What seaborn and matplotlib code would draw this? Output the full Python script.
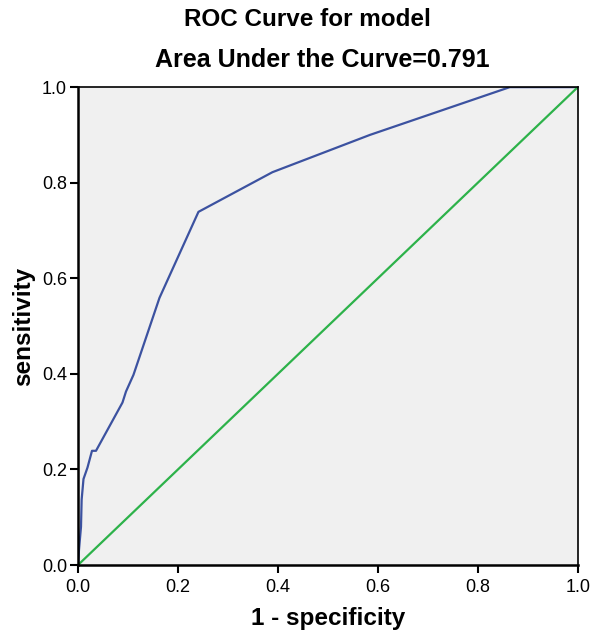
import matplotlib
matplotlib.use("Agg")
import numpy as np
import pandas as pd
import matplotlib.pyplot as plt
import seaborn as sns

# ROC curve points
fpr = [0.0, 0.002, 0.006, 0.0073, 0.011, 0.019, 0.028, 0.036, 0.089, 0.096,
       0.111, 0.163, 0.241, 0.389, 0.584, 0.864, 1.0]
tpr = [0.0, 0.032, 0.08, 0.137, 0.18, 0.204, 0.239, 0.239, 0.34, 0.363,
       0.398, 0.559, 0.739, 0.822, 0.90, 1.0, 1.0]

# reference diagonal
diag_x = [0.0, 1.0]
diag_y = [0.0, 1.0]

ticks = [0.0, 0.2, 0.4, 0.6, 0.8, 1.0]
auc = 0.791

sns.set_style("white")
plt.rcParams['font.family'] = ['Liberation Sans', 'DejaVu Sans']
plt.rcParams['text.color'] = 'black'
plt.rcParams['axes.labelcolor'] = 'black'
plt.rcParams['xtick.color'] = 'black'
plt.rcParams['ytick.color'] = 'black'

roc = pd.DataFrame({'fpr': fpr, 'tpr': tpr})
ref = pd.DataFrame({'x': diag_x, 'y': diag_y})

fig = plt.figure(figsize=(6, 6.36), dpi=100)
ax = fig.add_axes([0.13, 0.1116, 0.833, 0.7514])
ax.set_facecolor('#F0F0F0')

sns.lineplot(data=roc, x='fpr', y='tpr', sort=False, color='#3C52A0',
             linewidth=1.6, ax=ax)
sns.lineplot(data=ref, x='x', y='y', sort=False, color='#2DB24A',
             linewidth=1.6, ax=ax)

ax.set_xlim(0, 1)
ax.set_ylim(0, 1)
ax.set_xticks(ticks)
ax.set_yticks(ticks)
ax.set_xticklabels([f"{t:.1f}" for t in ticks])
ax.set_yticklabels([f"{t:.1f}" for t in ticks])
ax.tick_params(axis='both', direction='out', length=6, width=1.5,
               labelsize=13, bottom=True, left=True,
               top=False, right=False, pad=2)
ax.tick_params(axis='x', pad=4)

for sp in ax.spines.values():
    sp.set_color('black')
    sp.set_linewidth(1.2)
ax.spines['left'].set_linewidth(1.8)
ax.spines['bottom'].set_linewidth(1.8)

ax.set_xlabel("1 - specificity", fontsize=17.5, fontweight='bold', labelpad=8)
ax.set_ylabel("sensitivity", fontsize=17.5, fontweight='bold', labelpad=5)

fig.text(0.512, 0.970, "ROC Curve for model", ha='center', va='center',
         fontsize=17.5, fontweight='bold')
fig.text(0.537, 0.905, f"Area Under the Curve={auc}", ha='center', va='center',
         fontsize=18, fontweight='bold')

fig.savefig("out.png", dpi=100)
